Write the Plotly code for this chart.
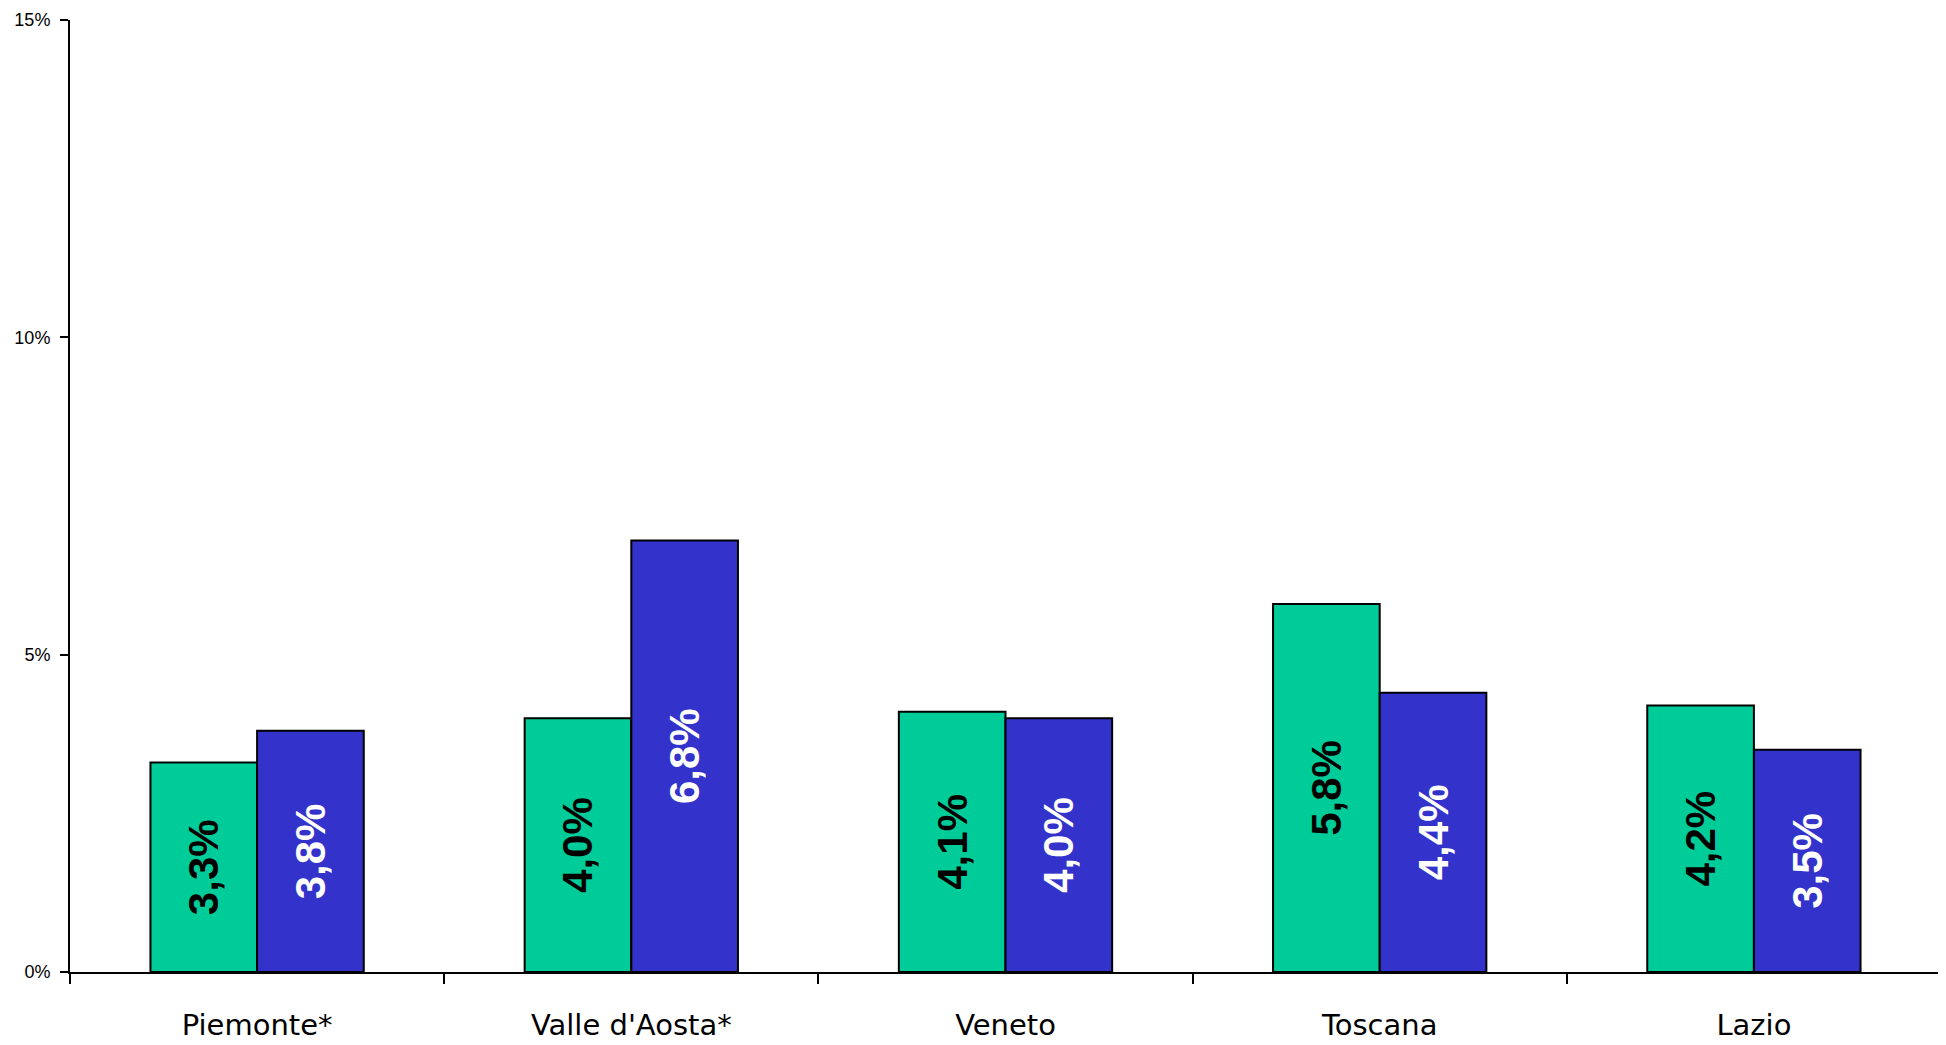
import plotly.graph_objects as go

regions = ["Piemonte*", "Valle d'Aosta*", "Veneto", "Toscana", "Lazio"]
series_a = [3.3, 4.0, 4.1, 5.8, 4.2]
series_b = [3.8, 6.8, 4.0, 4.4, 3.5]
y_ticks = [0, 5, 10, 15]
y_tick_labels = ["0%", "5%", "10%", "15%"]

def fmt(v):
    return f"{v:.1f}".replace(".", ",") + "%"

fig = go.Figure()
fig.add_trace(go.Bar(
    x=regions, y=series_a, text=[fmt(v) for v in series_a],
    marker=dict(color="#00CC99", line=dict(color="black", width=2)),
    textposition="inside", insidetextanchor="middle", textangle=-90,
    textfont=dict(family="Liberation Sans, Arial", size=42, color="black", weight="bold"),
    constraintext="none", hoverinfo="skip",
))
fig.add_trace(go.Bar(
    x=regions, y=series_b, text=[fmt(v) for v in series_b],
    marker=dict(color="#3333CC", line=dict(color="black", width=2)),
    textposition="inside", insidetextanchor="middle", textangle=-90,
    textfont=dict(family="Liberation Sans, Arial", size=42, color="white", weight="bold"),
    constraintext="none", hoverinfo="skip",
))

fig.update_layout(
    width=1946, height=1045,
    margin=dict(l=62, r=13, t=12, b=81),
    paper_bgcolor="white", plot_bgcolor="white",
    barmode="group", bargap=0.43, bargroupgap=0,
    showlegend=False,
    uniformtext=dict(mode=False),
    font=dict(family="Liberation Sans, Arial", color="black"),
)
fig.update_xaxes(
    showline=True, linecolor="black", linewidth=2,
    ticks="outside", tickson="boundaries", ticklen=10, tickwidth=2, tickcolor="black",
    tickfont=dict(family="DejaVu Sans", size=29, color="black"), ticklabelstandoff=26,
    showgrid=False, zeroline=False, automargin=False,
)
fig.update_yaxes(
    range=[0, 15], tickvals=y_ticks, ticktext=y_tick_labels,
    showline=True, linecolor="black", linewidth=2,
    ticks="outside", ticklen=8, tickwidth=2, tickcolor="black",
    tickfont=dict(family="Liberation Sans, Arial", size=18, color="black"), ticklabelstandoff=6,
    showgrid=False, zeroline=False, automargin=False,
)

fig.write_html("out.html")
